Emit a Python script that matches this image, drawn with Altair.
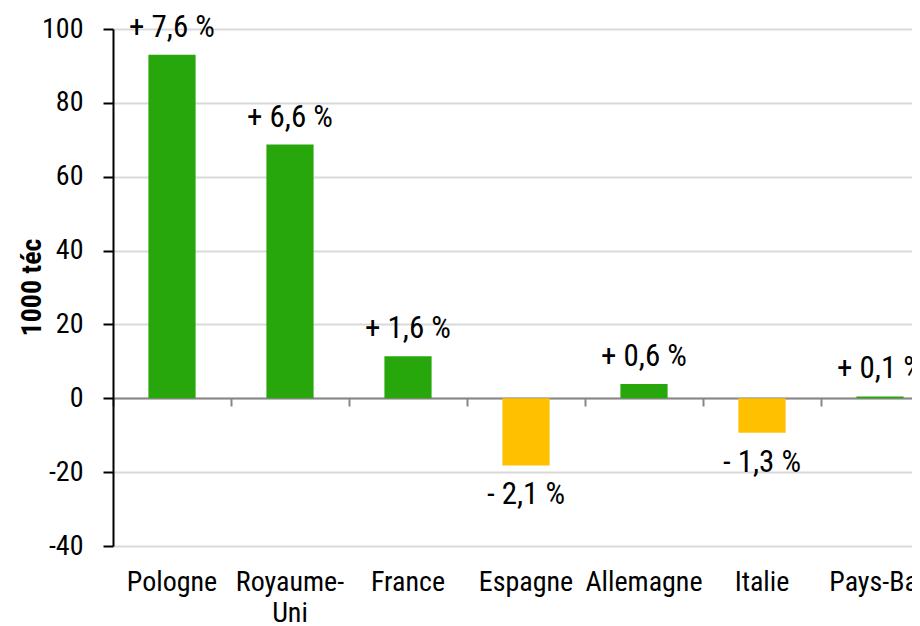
import altair as alt
import pandas as pd

countries = ["Pologne", "Royaume-Uni", "France", "Espagne", "Allemagne", "Italie", "Pays-Bas"]
values = [93.0, 68.7, 11.4, -18.2, 3.9, -9.3, 0.5]
pct = [7.6, 6.6, 1.6, -2.1, 0.6, -1.3, 0.1]

df = pd.DataFrame({"country": countries, "value": values, "pct": pct})

FONT = "Roboto Condensed, Liberation Sans, Arial, sans-serif"
FS = 28
FS_LAB = 31
GREEN = "#28a70c"
AMBER = "#ffc000"

x_sort = countries

base = alt.Chart(df).transform_calculate(
    lab="(datum.pct >= 0 ? '+ ' : '- ') + replace(format(abs(datum.pct), '.1f'), '.', ',') + ' %'"
)

yscale = alt.Scale(domain=[-40, 100], nice=False, zero=False)
xscale = alt.Scale(paddingInner=0, paddingOuter=0, range=[0, 826])

bars = base.mark_bar(width=alt.RelativeBandSize(0.4)).encode(
    x=alt.X("country:N", sort=x_sort, title=None, scale=xscale,
            axis=alt.Axis(orient="bottom", offset=-148, labels=False, domain=True,
                          domainColor="#878787", domainWidth=2,
                          ticks=True, tickBand="extent", tickColor="#878787",
                          tickWidth=2, tickSize=8, grid=False)),
    y=alt.Y("value:Q", scale=yscale, title="1000 téc",
            axis=alt.Axis(values=[-40, -20, 0, 20, 40, 60, 80, 100],
                          labelExpr="datum.value < 0 ? '-' + abs(datum.value) : '' + datum.value",
                          domainColor="black", domainWidth=2,
                          tickColor="black", tickWidth=2, tickSize=10,
                          gridColor="#d9d9d9", gridWidth=2,
                          labelFont=FONT, labelFontSize=FS, labelColor="black",
                          labelPadding=20,
                          titleFont=FONT, titleFontSize=FS, titleFontWeight="bold",
                          titleColor="black", titleX=-81, titleY=258,
                          titleBaseline="middle")),
    color=alt.condition("datum.value >= 0", alt.value(GREEN), alt.value(AMBER)),
)

xlabels = base.mark_text(opacity=0).encode(
    x=alt.X("country:N", sort=x_sort, title=None, scale=xscale,
            axis=alt.Axis(orient="bottom", domain=False, ticks=False, grid=False,
                          labelFont=FONT, labelFontSize=FS, labelColor="black",
                          labelPadding=22, labelLineHeight=31, labelAngle=0,
                          labelExpr="datum.label == 'Royaume-Uni' ? ['Royaume-', 'Uni'] : datum.label")),
    y=alt.Y("value:Q", scale=yscale),
    text="lab:N",
)

pos_text = base.transform_filter("datum.value >= 0").mark_text(
    baseline="alphabetic", dy=-18, font=FONT, fontSize=FS_LAB, color="black"
).encode(
    x=alt.X("country:N", sort=x_sort, axis=None, scale=xscale),
    y=alt.Y("value:Q", scale=yscale),
    text="lab:N",
)

neg_text = base.transform_filter("datum.value < 0").mark_text(
    baseline="top", dy=15, font=FONT, fontSize=FS_LAB, color="black"
).encode(
    x=alt.X("country:N", sort=x_sort, axis=None, scale=xscale),
    y=alt.Y("value:Q", scale=yscale),
    text="lab:N",
)

chart = alt.layer(bars, pos_text, neg_text, xlabels).resolve_axis(
    x="independent"
).properties(
    width=799, height=517,
    autosize=alt.AutoSizeParams(type="none"),
    padding={"left": 105, "top": 21, "right": 0, "bottom": 80},
    background="white",
).configure_view(stroke=None)

chart.save("out.html", embed_options={"renderer": "svg", "actions": False})
